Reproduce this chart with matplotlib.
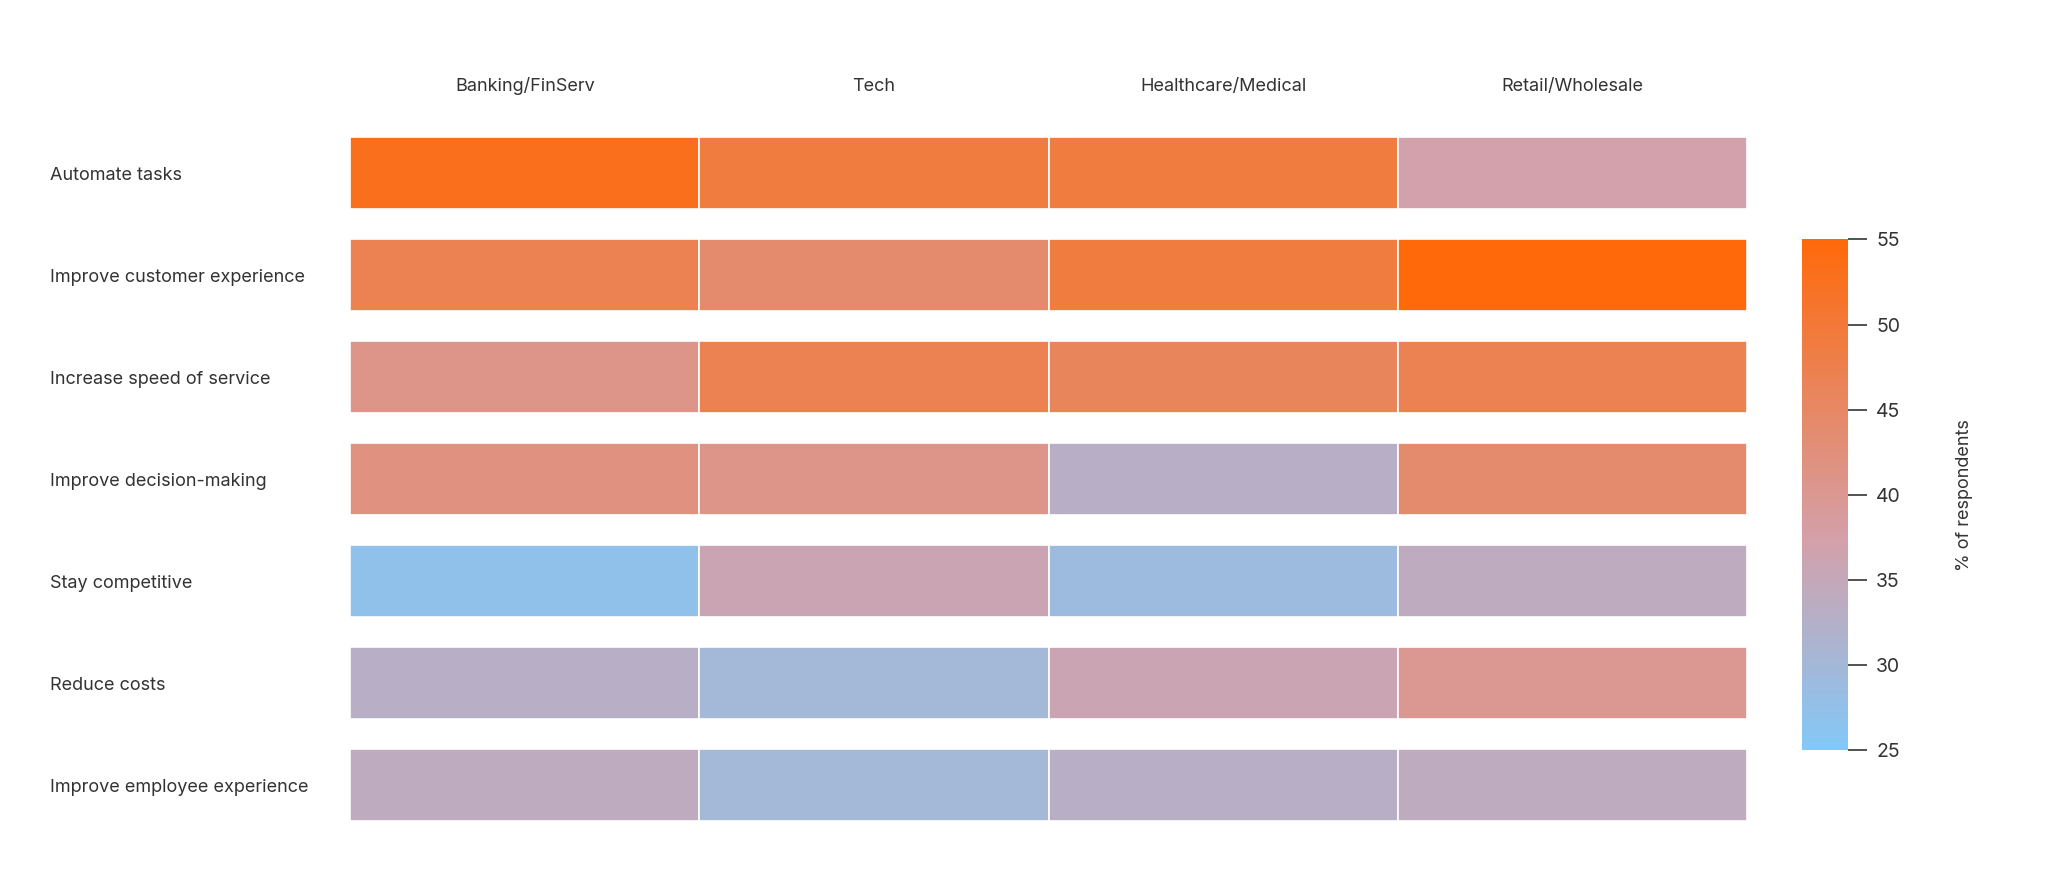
import matplotlib
matplotlib.use("Agg")
import matplotlib.pyplot as plt
from matplotlib.colors import LinearSegmentedColormap, Normalize
from matplotlib.cm import ScalarMappable

plt.rcParams['font.family'] = ['Inter', 'DejaVu Sans']

industries = ["Banking/FinServ", "Tech", "Healthcare/Medical", "Retail/Wholesale"]
goals = ["Automate tasks", "Improve customer experience", "Increase speed of service",
         "Improve decision-making", "Stay competitive", "Reduce costs", "Improve employee experience"]
values = [
    [53, 49, 49, 37],
    [47, 44, 49, 55],
    [41, 47, 46, 47],
    [42, 41, 33, 44],
    [27, 36, 29, 34],
    [33, 30, 36, 40],
    [34, 30, 33, 34],
]
vmin, vmax = 25, 55

cmap = LinearSegmentedColormap.from_list("c", [(0, "#83C8F7"), (0.41, "#D4A0AA"), (1, "#FF690A")])
norm = Normalize(vmin, vmax)

fig = plt.figure(figsize=(20.48, 8.74), dpi=100)
ax = fig.add_axes([0.171, 0.0435, 0.682, 0.8165])
for i, row in enumerate(values):
    for j, v in enumerate(row):
        ax.barh(i, 1, left=j, height=0.705, color=cmap(norm(v)), edgecolor="white", linewidth=1.2)
ax.set_xlim(0, 4)
ax.set_ylim(6.5, -0.5)
for s in ax.spines.values():
    s.set_visible(False)
ax.set_xticks([j + 0.5 for j in range(4)])
ax.set_xticklabels(industries, fontsize=13, color="#333333")
ax.xaxis.tick_top()
ax.tick_params(axis="x", length=0, pad=20)
ax.set_yticks(range(len(goals)))
ax.set_yticklabels(goals, fontsize=13, color="#333333", ha="left")
ax.tick_params(axis="y", length=0, pad=216)

cax = fig.add_axes([0.880, 0.142, 0.0225, 0.584])
cb = fig.colorbar(ScalarMappable(norm=norm, cmap=cmap), cax=cax)
cb.outline.set_visible(False)
cb.set_ticks([25, 30, 35, 40, 45, 50, 55])
cax.tick_params(length=14, width=1.2, color="#333333", labelsize=14, labelcolor="#333333", pad=6)
cb.set_label("% of respondents", fontsize=13, color="#333333", labelpad=40)

fig.savefig("out.png", dpi=100, facecolor="white")
